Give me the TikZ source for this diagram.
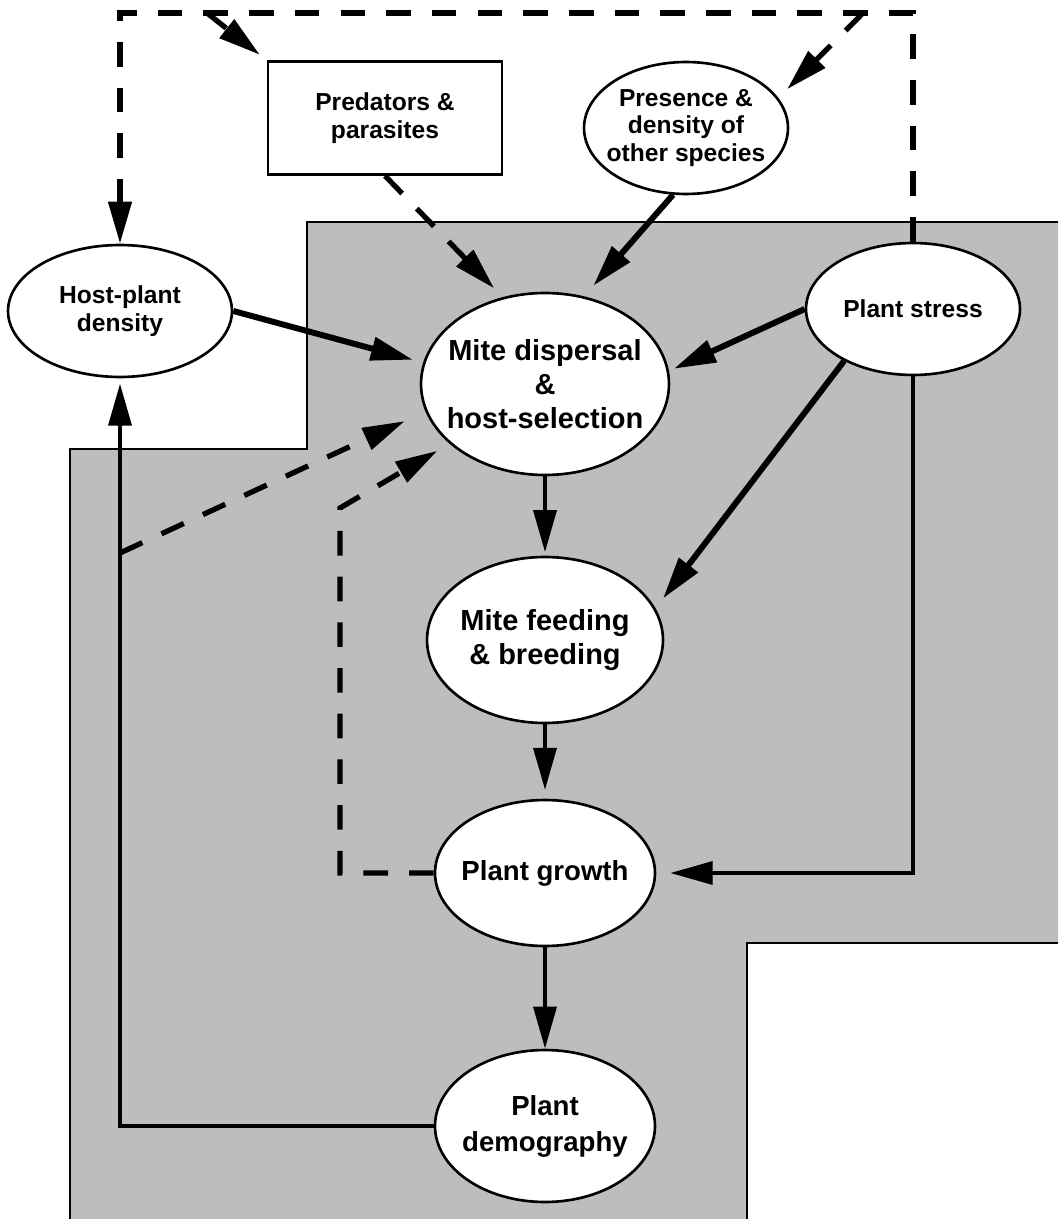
\documentclass[tikz,border=0pt]{standalone}
\usepackage{fontspec}
\setmainfont{Liberation Sans}
\usetikzlibrary{arrows.meta,%
                shapes,positioning}

\tikzset{
  blob/.style={ellipse, draw, line width=1.5pt, fill=white, inner sep=-8pt, align=center},
  smalltxt/.style={font=\fontsize{14}{15.8}\selectfont\bfseries},
  midtxt/.style={font=\fontsize{15.7}{20.5}\selectfont\bfseries},
  bigtxt/.style={font=\fontsize{16.5}{19.3}\selectfont\bfseries},
  tip/.style={-{Triangle[length=24pt,width=13pt]}},
  heavy/.style={tip, line width=3.4pt},
  medium/.style={tip, line width=2.4pt},
  light/.style={tip, line width=2pt},
  dashy/.style={tip, line width=3pt, dash pattern=on 14pt off 12pt}
}

\begin{document}
\begin{tikzpicture}[x=0.02cm,y=-0.02cm]
\useasboundingbox (0,0) rectangle (1058,1219);
% shaded zone
\fill[black!26] (307,222) -- (1058,222) -- (1058,943) -- (747,943) -- (747,1219)
  -- (70,1219) -- (70,449) -- (307,449) -- cycle;
\draw[line width=1.5pt] (1058,222) -- (307,222) -- (307,449) -- (70,449) -- (70,1219);
\draw[line width=1.5pt] (1058,943) -- (747,943) -- (747,1219);

\node[rectangle, draw, line width=1.5pt, fill=white, smalltxt, align=center,
  minimum width=4.68cm, minimum height=2.26cm] (pred) at (385,118) {Predators \&\\parasites};
\node[blob, smalltxt, minimum width=4.08cm, minimum height=2.64cm] (pres) at (686,128) {Presence \&\\density of\\other species};
\node[blob, smalltxt, minimum width=4.48cm, minimum height=2.64cm] (host) at (120,311) {Host-plant\\density};
\node[blob, smalltxt, minimum width=4.28cm, minimum height=2.64cm] (stress) at (913,309) {Plant stress};
\node[blob, bigtxt, minimum width=4.96cm, minimum height=3.64cm] (disp) at (545,384) {Mite dispersal\\\&\\host-selection};
\node[blob, bigtxt, minimum width=4.72cm, minimum height=3.32cm] (feed) at (545,640) {Mite feeding\\\& breeding};
\node[blob, midtxt, minimum width=4.4cm, minimum height=2.92cm] (growth) at (545,873) {Plant growth};
\node[blob, midtxt, minimum width=4.4cm, minimum height=3.04cm] (demog) at (545,1126) {Plant\\demography};

\coordinate (tl) at (120,13);
\coordinate (tr) at (913,13);
\coordinate (tp) at (207,13);
\coordinate (tq) at (863,13);
\coordinate (hb) at (host.south |- 0,553);
\coordinate (gc) at (340,508);

\draw[dashy] (stress.north) -- (tr) -- (tl) -- (host.north);
\draw[dashy, shorten >=5pt] (tp) -- (pred.north west);
\draw[dashy, shorten >=7pt] (tq) -- (pres.18);
\draw[dashy, shorten >=7pt] (pred.south) -- (disp.116);
\draw[dashy, shorten >=13pt] (hb) -- (disp.193);
\draw[dashy, shorten >=8pt] (growth.west) -| (gc) -- (disp.212);

\draw[heavy, shorten >=6pt] (host.east) -- (disp.170);
\draw[heavy, shorten >=8pt] (pres.259) -- (disp.66);
\draw[heavy, shorten >=3pt] (stress.west) -- (disp.6);
\draw[heavy, shorten >=7pt] (stress.217) -- (feed.16);
\draw[medium, shorten >=2pt] (disp) -- (feed);
\draw[medium, shorten >=5pt] (feed) -- (growth);
\draw[medium] (growth) -- (demog);
\draw[light, shorten >=8pt] (stress.south) |- (growth.east);
\draw[medium, shorten >=3pt] (demog.west) -| (host.south);
\end{tikzpicture}
\end{document}
